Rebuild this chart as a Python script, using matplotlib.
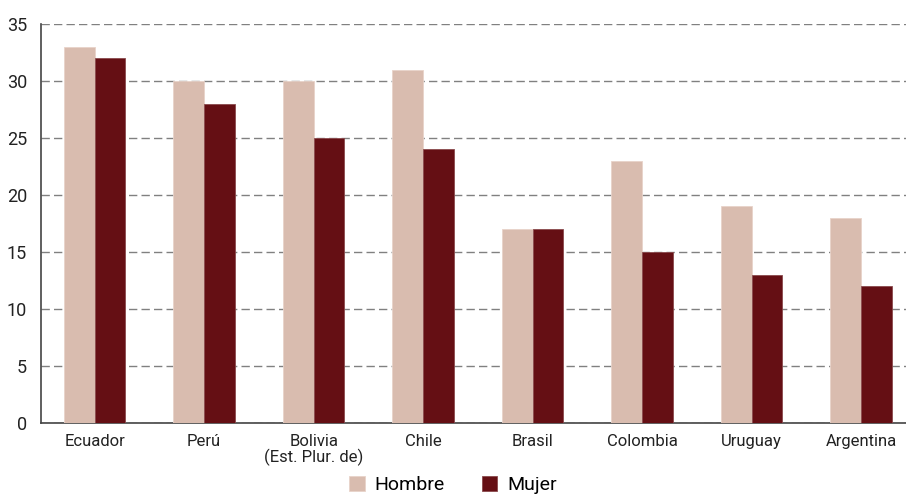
import matplotlib.pyplot as plt
import numpy as np

paises = ["Ecuador", "Perú", "Bolivia\n(Est. Plur. de)", "Chile", "Brasil",
          "Colombia", "Uruguay", "Argentina"]
hombre = [33, 30, 30, 31, 17, 23, 19, 18]
mujer = [32, 28, 25, 24, 17, 15, 13, 12]

plt.rcParams["font.family"] = ["Roboto", "DejaVu Sans"]

fig = plt.figure(figsize=(9.06, 4.99), dpi=100)
ax = fig.add_axes([41 / 906, 1 - 423 / 499, 865 / 906, 399 / 499])

x = np.arange(len(paises))
w = 0.28
ax.bar(x - w / 2, hombre, w, color="#D9BCAF", edgecolor="#E8D3CA", linewidth=0.6,
       label="Hombre", zorder=3)
ax.bar(x + w / 2, mujer, w, color="#650F14", edgecolor="#8A4A4D", linewidth=0.6,
       label="Mujer", zorder=3)

ax.set_xlim(-0.49, 7.41)
ax.set_ylim(0, 35)
ax.set_yticks(range(0, 36, 5))
ax.set_xticks(x)
ax.set_xticklabels(paises, fontsize=12, color="#222222", linespacing=1.0)
ax.tick_params(axis="y", length=0, labelsize=13, labelcolor="#222222", pad=10)
ax.tick_params(axis="x", length=0, pad=8)

ax.yaxis.grid(True, linestyle=(0, (6, 3)), color="#808080", linewidth=1.0, zorder=0)
for s in ["top", "right"]:
    ax.spines[s].set_visible(False)
ax.spines["left"].set_color("#444444")
ax.spines["bottom"].set_color("#444444")
ax.spines["left"].set_linewidth(1.2)
ax.spines["bottom"].set_linewidth(1.2)

fig.legend(loc="lower center", bbox_to_anchor=(0.5, -0.025), ncol=2, frameon=False,
           fontsize=14, handlelength=0.8, handleheight=0.8, columnspacing=1.9,
           handletextpad=0.5)

fig.savefig("out.png", dpi=100)
